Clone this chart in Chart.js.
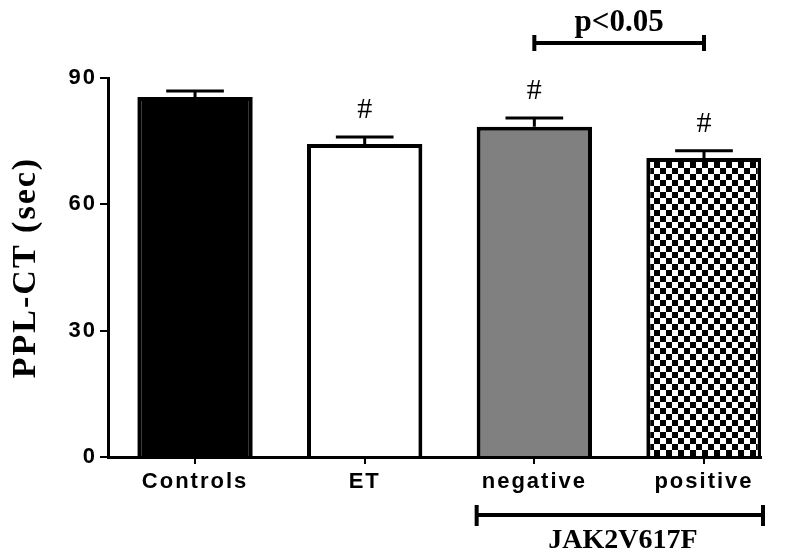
<!DOCTYPE html>
<html>
<head>
<meta charset="utf-8">
<script src="https://cdn.jsdelivr.net/npm/chart.js@4/dist/chart.umd.min.js"></script>
<style>body{margin:0;background:#fff}</style>
</head>
<body>
<canvas id="chart" width="800" height="560"></canvas>
<script>
// DATA
const groups = ["Controls", "ET", "negative", "positive"];
const means = [85.5, 74.3, 78.4, 71.0];
const sem = [1.4, 1.7, 2.1, 1.7];
const marks = ["", "#", "#", "#"];
const yTicks = [0, 30, 60, 90];
const positions = [1, 2, 3, 4];

// checkerboard fill for the last bar
const tile = document.createElement("canvas");
tile.width = 12; tile.height = 12;
const tctx = tile.getContext("2d");
tctx.fillStyle = "#fff"; tctx.fillRect(0, 0, 12, 12);
tctx.fillStyle = "#000"; tctx.fillRect(0, 0, 6, 6); tctx.fillRect(6, 6, 6, 6);

const ctx = document.getElementById("chart").getContext("2d");
const checker = ctx.createPattern(tile, "repeat");

// error bars, # marks and brackets
const extras = {
    id: "extras",
    beforeDraw(chart) {
        // wider tick labels like the original
        chart.ctx.letterSpacing = "2px";
    },
    afterDatasetsDraw(chart) {
        const c = chart.ctx, y = chart.scales.y, x = chart.scales.x, area = chart.chartArea;
        const bars = chart.getDatasetMeta(0).data;
        c.save();
        c.letterSpacing = "0px";
        c.strokeStyle = "#000";
        c.fillStyle = "#000";
        c.lineWidth = 3;
        bars.forEach((bar, i) => {
            const top = y.getPixelForValue(means[i] + sem[i]);
            c.beginPath();
            c.moveTo(bar.x, bar.y); c.lineTo(bar.x, top);
            c.moveTo(bar.x - bar.width / 4, top); c.lineTo(bar.x + bar.width / 4, top);
            c.stroke();
            if (marks[i]) {
                c.font = "30px 'Liberation Serif'";
                c.textAlign = "center";
                c.textBaseline = "middle";
                c.fillText(marks[i], bar.x, top - 27);
            }
        });

        // p<0.05 bracket
        c.lineWidth = 4;
        const x1 = x.getPixelForValue(3), x2 = x.getPixelForValue(4), by = area.top - 35;
        c.beginPath();
        c.moveTo(x1, by); c.lineTo(x2, by);
        c.moveTo(x1, by - 8); c.lineTo(x1, by + 8);
        c.moveTo(x2, by - 8); c.lineTo(x2, by + 8);
        c.stroke();
        c.font = "bold 31px 'Liberation Serif'";
        c.textAlign = "center";
        c.textBaseline = "middle";
        c.fillText("p<0.05", (x1 + x2) / 2, by - 20);

        // JAK2V617F bracket
        const j1 = bars[2].x - bars[2].width / 2, j2 = area.right + 2, jy = area.bottom + 58;
        c.beginPath();
        c.moveTo(j1, jy); c.lineTo(j2, jy);
        c.moveTo(j1, jy - 10); c.lineTo(j1, jy + 11);
        c.moveTo(j2, jy - 10); c.lineTo(j2, jy + 11);
        c.stroke();
        c.font = "bold 28px 'Liberation Serif'";
        c.fillText("JAK2V617F", (j1 + j2) / 2 + 3, jy + 26);
        c.restore();
    }
};

Chart.defaults.color = "#000";

new Chart(ctx, {
    type: "bar",
    data: {
        datasets: [{
            data: positions.map((p, i) => ({ x: p, y: means[i] })),
            backgroundColor: ["#000", "#fff", "#808080", checker],
            borderColor: "#000",
            borderWidth: 4,
            barPercentage: 0.68,
            categoryPercentage: 1
        }]
    },
    options: {
        responsive: false,
        animation: false,
        layout: { padding: { top: 78, right: 39, left: 0, bottom: 0 } },
        plugins: { legend: { display: false }, tooltip: { enabled: false } },
        scales: {
            x: {
                type: "linear",
                offset: false,
                min: 0.487,
                max: 4.336,
                afterFit: s => { s.height = 103; },
                afterBuildTicks: s => { s.ticks = positions.map(v => ({ value: v })); },
                grid: { offset: false, drawOnChartArea: false, drawTicks: true, tickLength: 7, color: "#000", lineWidth: 2 },
                border: { color: "#000", width: 3 },
                ticks: {
                    callback: v => groups[v - 1],
                    font: { family: "'Liberation Sans'", weight: "bold", size: 22 },
                    padding: 5,
                    maxRotation: 0,
                    autoSkip: false
                }
            },
            y: {
                min: 0,
                max: 90,
                afterFit: s => { s.width = 108; },
                afterBuildTicks: s => { s.ticks = yTicks.map(v => ({ value: v })); },
                grid: { drawOnChartArea: false, drawTicks: true, tickLength: 8, color: "#000", lineWidth: 2 },
                border: { color: "#000", width: 3 },
                ticks: {
                    font: { family: "'Liberation Sans'", weight: "bold", size: 22 },
                    padding: 3
                },
                title: {
                    display: true,
                    text: "PPL-CT (sec)",
                    font: { family: "'Liberation Serif'", weight: "bold", size: 34 },
                    padding: { top: 6, bottom: 0 }
                }
            }
        }
    },
    plugins: [extras]
});
</script>
</body>
</html>
